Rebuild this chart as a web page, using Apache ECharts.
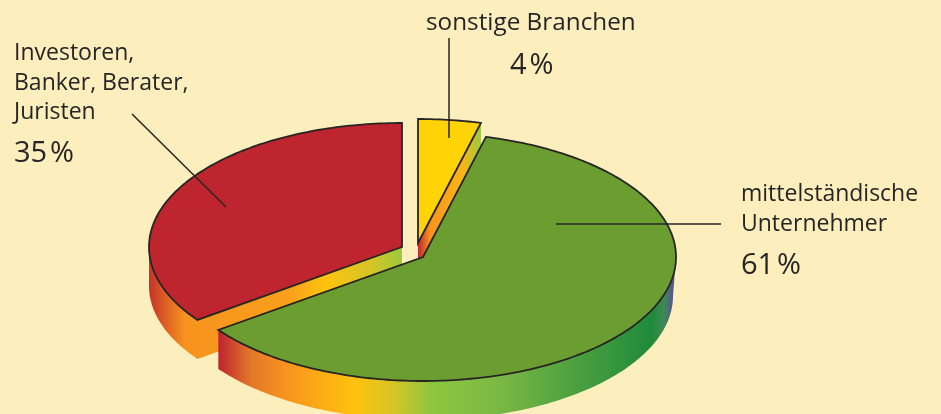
<!DOCTYPE html>
<html>
<head>
<meta charset="utf-8">
<style>html,body{margin:0;padding:0;background:#fdeebe}#c{width:941px;height:414px}</style>
<script src="https://cdn.jsdelivr.net/npm/echarts@6/dist/echarts.min.js"></script>
</head>
<body>
<div id="c"></div>
<script>
// Data
const categories = ['sonstige Branchen', 'mittelständische Unternehmer', 'Investoren, Banker, Berater, Juristen'];
const values = [4, 61, 35];
const labelLines = [['sonstige Branchen'], ['mittelständische', 'Unternehmer'], ['Investoren,', 'Banker, Berater,', 'Juristen']];

// Layout and style
const bg = '#fdeebe', ink = '#262524';
const topColors = ['#ffd305', '#6c9d30', '#bf252e'];
const centers = [[418, 243], [423, 257], [402, 247]];
const RX = 253, RY = 124, DEPTH = 39, TAPER = 3;
const zOrder = [1, 2, 0];
const labelSizes = [24.3, 23, 23];
const labelPos = [[426, 8], [741, 180], [14, 39]];
const pctPos = [[510, 51], [741, 251], [14, 139]];
const leaders = [[[449, 38], [449, 138]], [[556, 224], [721, 224]], [[132, 114], [226, 207]]];
const wallStops = [
  [[418,'#c0272d'],[430,'#f7931e'],[462,'#fdb515'],[480,'#9cc93c']],
  [[219,'#c0242f'],[250,'#e2762a'],[285,'#f7931e'],[355,'#ffc20e'],[395,'#d3c527'],[432,'#8dc63f'],[500,'#7ab844'],[570,'#4fa23f'],[652,'#1f8a3c'],[664,'#3f8a55'],[675,'#5b4a9a']],
  [[150,'#c8352b'],[185,'#f7931e'],[290,'#f9a01b'],[325,'#ffc20e'],[372,'#d3c527'],[402,'#9cc93c']]
];

const total = values.reduce((a, b) => a + b, 0);
function ptAt(c, deg, dy) {
  const r = deg * Math.PI / 180;
  const s = Math.sin(r);
  const x = c[0] + RX * s - (dy ? TAPER * Math.max(0, s) : 0);
  return [x, c[1] - RY * Math.cos(r) + (dy || 0)];
}
function arc(c, a0, a1, dy) {
  const pts = [], n = Math.max(2, Math.ceil(Math.abs(a1 - a0)));
  for (let i = 0; i <= n; i++) pts.push(ptAt(c, a0 + (a1 - a0) * i / n, dy));
  return pts;
}
function grad(stops) {
  const x0 = stops[0][0], x1 = stops[stops.length - 1][0];
  return {
    type: 'linear', global: true, x: x0, y: 0, x2: x1, y2: 0,
    colorStops: stops.map(s => ({offset: (s[0] - x0) / (x1 - x0), color: s[1]}))
  };
}

function renderItem(params, api) {
  const i = params.dataIndex;
  let before = 0;
  for (let k = 0; k < i; k++) before += values[k];
  const a0 = before / total * 360, a1 = (before + api.value(0)) / total * 360;
  const c = centers[i];
  const base = zOrder[i] * 10;
  const children = [];
  // Visible wall: the front-facing outer arc and the radial cut
  const wallPts = [];
  if (i === 0) {
    const e = ptAt(c, a1);
    wallPts.push(e, c, [c[0], c[1] + DEPTH], [e[0], e[1] + DEPTH]);
  } else if (i === 1) {
    wallPts.push(...arc(c, 90, a1), ...arc(c, 90, a1, DEPTH).reverse());
  } else {
    wallPts.push(c, ...arc(c, a0, 270), ...arc(c, a0, 270, DEPTH).reverse(), [c[0], c[1] + DEPTH]);
  }
  children.push({
    type: 'polygon', z2: base, silent: true,
    shape: {points: wallPts},
    style: {fill: grad(wallStops[i])}
  });
  // Top face
  children.push({
    type: 'polygon', z2: base + 1, silent: true,
    shape: {points: [c, ...arc(c, a0, a1)]},
    style: {fill: topColors[i], stroke: ink, lineWidth: 1.8, lineJoin: 'miter'}
  });
  return {type: 'group', children};
}

const graphics = [];
leaders.forEach(l => graphics.push({
  type: 'line', z: 20, silent: true,
  shape: {x1: l[0][0], y1: l[0][1], x2: l[1][0], y2: l[1][1]},
  style: {stroke: ink, lineWidth: 1.5}
}));
labelLines.forEach((lines, i) => {
  graphics.push({
    type: 'text', z: 21, x: labelPos[i][0], y: labelPos[i][1], silent: true,
    style: {text: lines.join('\n'), font: labelSizes[i] + 'px "Open Sans"', lineHeight: 29.5, fill: ink}
  });
  graphics.push({
    type: 'text', z: 21, x: pctPos[i][0], y: pctPos[i][1], silent: true,
    style: {text: values[i] + '\u200a%', font: '29px "Open Sans"', fill: ink}
  });
});

const chart = echarts.init(document.getElementById('c'), null, {renderer: 'canvas'});
chart.setOption({
  animation: false,
  backgroundColor: bg,
  graphic: graphics,
  series: [{
    type: 'custom',
    coordinateSystem: 'none',
    renderItem,
    clip: false,
    data: values.map((v, i) => ({name: categories[i], value: [v]}))
  }]
});
</script>
</body>
</html>
